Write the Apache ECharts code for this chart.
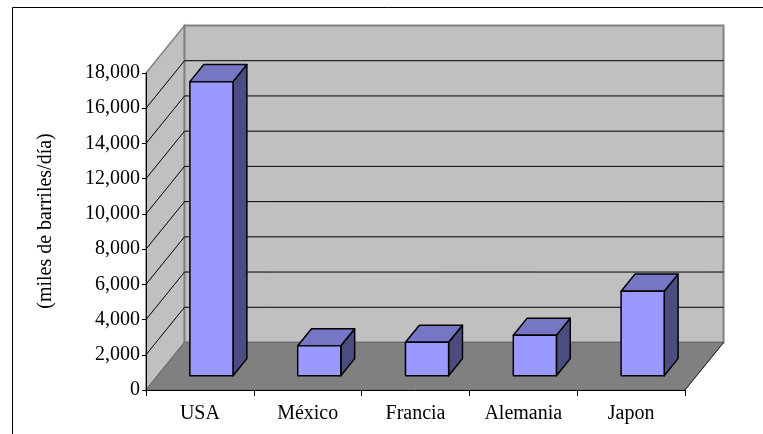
<!DOCTYPE html>
<html>
<head>
<meta charset="utf-8">
<script src="https://cdn.jsdelivr.net/npm/echarts@6/dist/echarts.min.js"></script>
<style>
html,body{margin:0;padding:0;background:#fff;}
#c{width:763px;height:434px;}
</style>
</head>
<body>
<div id="c"></div>
<script>
var categories = ['USA', 'México', 'Francia', 'Alemania', 'Japon'];
var consumo = [16700, 1700, 1900, 2300, 4800];
var yTicks = [0, 2000, 4000, 6000, 8000, 10000, 12000, 14000, 16000, 18000];
var yTitle = '(miles de barriles/día)';

var DX = 38.5, DY = -47.5;          // depth vector of the 3D box
var FRONT = 0.3, DEPTH = 0.36;      // bar depth position / thickness (fractions)
var FONT = 'Liberation Serif';

var chart = echarts.init(document.getElementById('c'), null, {renderer: 'canvas'});

function wallsRender(params, api) {
  var cs = params.coordSys;
  var x0 = cs.x, x1 = cs.x + cs.width;
  var yMin = yTicks[0], yMax = yTicks[yTicks.length - 1];
  var y0 = api.coord([0, yMin])[1];
  var yT = api.coord([0, yMax])[1];
  var ch = [];
  ch.push({type: 'polygon', shape: {points: [[x0, y0], [x0 + DX, y0 + DY], [x0 + DX, yT + DY], [x0, yT]]},
    style: {fill: '#C0C0C0', stroke: '#808080', lineWidth: 1.5}});
  ch.push({type: 'polygon', shape: {points: [[x0 + DX, yT + DY], [x1 + DX, yT + DY], [x1 + DX, y0 + DY], [x0 + DX, y0 + DY]]},
    style: {fill: '#C0C0C0', stroke: '#808080', lineWidth: 2}});
  for (var k = 1; k < yTicks.length - 1; k++) {
    var yv = api.coord([0, yTicks[k]])[1];
    ch.push({type: 'line', shape: {x1: x0, y1: yv, x2: x0 + DX, y2: yv + DY}, style: {stroke: '#000', lineWidth: 1}});
    ch.push({type: 'line', shape: {x1: x0 + DX, y1: yv + DY, x2: x1 + DX, y2: yv + DY}, style: {stroke: '#000', lineWidth: 1}});
  }
  ch.push({type: 'polygon', shape: {points: [[x0, y0], [x0 + DX, y0 + DY], [x1 + DX, y0 + DY], [x1, y0]]},
    style: {fill: '#808080', stroke: '#6a6a6a', lineWidth: 1}});
  ch.push({type: 'line', shape: {x1: x1, y1: y0, x2: x1 + DX, y2: y0 + DY}, style: {stroke: '#222', lineWidth: 1}});
  return {type: 'group', children: ch};
}

function barRender(params, api) {
  var i = api.value(0), v = api.value(1);
  var band = api.size([1, 0])[0];
  var pb = api.coord([i, 0]);
  var pt = api.coord([i, v]);
  var w = band * 0.4;
  var ox = FRONT * DX, oy = FRONT * DY;
  var bx = DEPTH * DX, by = DEPTH * DY;
  var L = pb[0] - w / 2 + ox, R = pb[0] + w / 2 + ox;
  var T = pt[1] + oy, B = pb[1] + oy;
  var st = {stroke: '#000', lineWidth: 1.5, lineJoin: 'round'};
  return {type: 'group', children: [
    {type: 'polygon', shape: {points: [[R, T], [R + bx, T + by], [R + bx, B + by], [R, B]]}, style: Object.assign({fill: '#4C4C80'}, st)},
    {type: 'polygon', shape: {points: [[L, T], [L + bx, T + by], [R + bx, T + by], [R, T]]}, style: Object.assign({fill: '#7676C4'}, st)},
    {type: 'polygon', shape: {points: [[L, T], [R, T], [R, B], [L, B]]}, style: Object.assign({fill: '#9999FF'}, st)}
  ]};
}

var option = {
  animation: false,
  backgroundColor: '#fff',
  grid: {left: 146, right: 78, top: 73, bottom: 44},
  graphic: [
    {type: 'rect', left: 10, top: 5, shape: {x: 0, y: 0, width: 800, height: 500},
      style: {fill: 'none', stroke: '#000', lineWidth: 1}, z: 100},
    {type: 'text', x: 46, y: 221, rotation: Math.PI / 2, z: 100,
      style: {text: yTitle, fill: '#000', font: '20px "Liberation Serif"', textAlign: 'center', textVerticalAlign: 'middle'}}
  ],
  xAxis: {
    type: 'category', data: categories, z: 10,
    axisLine: {lineStyle: {color: '#000', width: 1}},
    axisTick: {show: true, length: 6, lineStyle: {color: '#000'}},
    axisLabel: {color: '#000', fontFamily: FONT, fontSize: 20, margin: 14}
  },
  yAxis: {
    type: 'value', min: yTicks[0], max: yTicks[yTicks.length - 1], interval: 2000, z: 10,
    axisLine: {show: true, lineStyle: {color: '#000', width: 1}},
    axisTick: {show: true, length: 4, lineStyle: {color: '#000'}},
    splitLine: {show: false},
    axisLabel: {color: '#000', fontFamily: FONT, fontSize: 20, margin: 6,
      formatter: function (v) { return v.toLocaleString('en-US'); }}
  },
  series: [
    {type: 'custom', z: 1, renderItem: wallsRender, data: [[0, 0]], silent: true},
    {type: 'custom', z: 5, renderItem: barRender,
      data: consumo.map(function (v, i) { return [i, v]; })}
  ]
};
chart.setOption(option);
</script>
</body>
</html>
